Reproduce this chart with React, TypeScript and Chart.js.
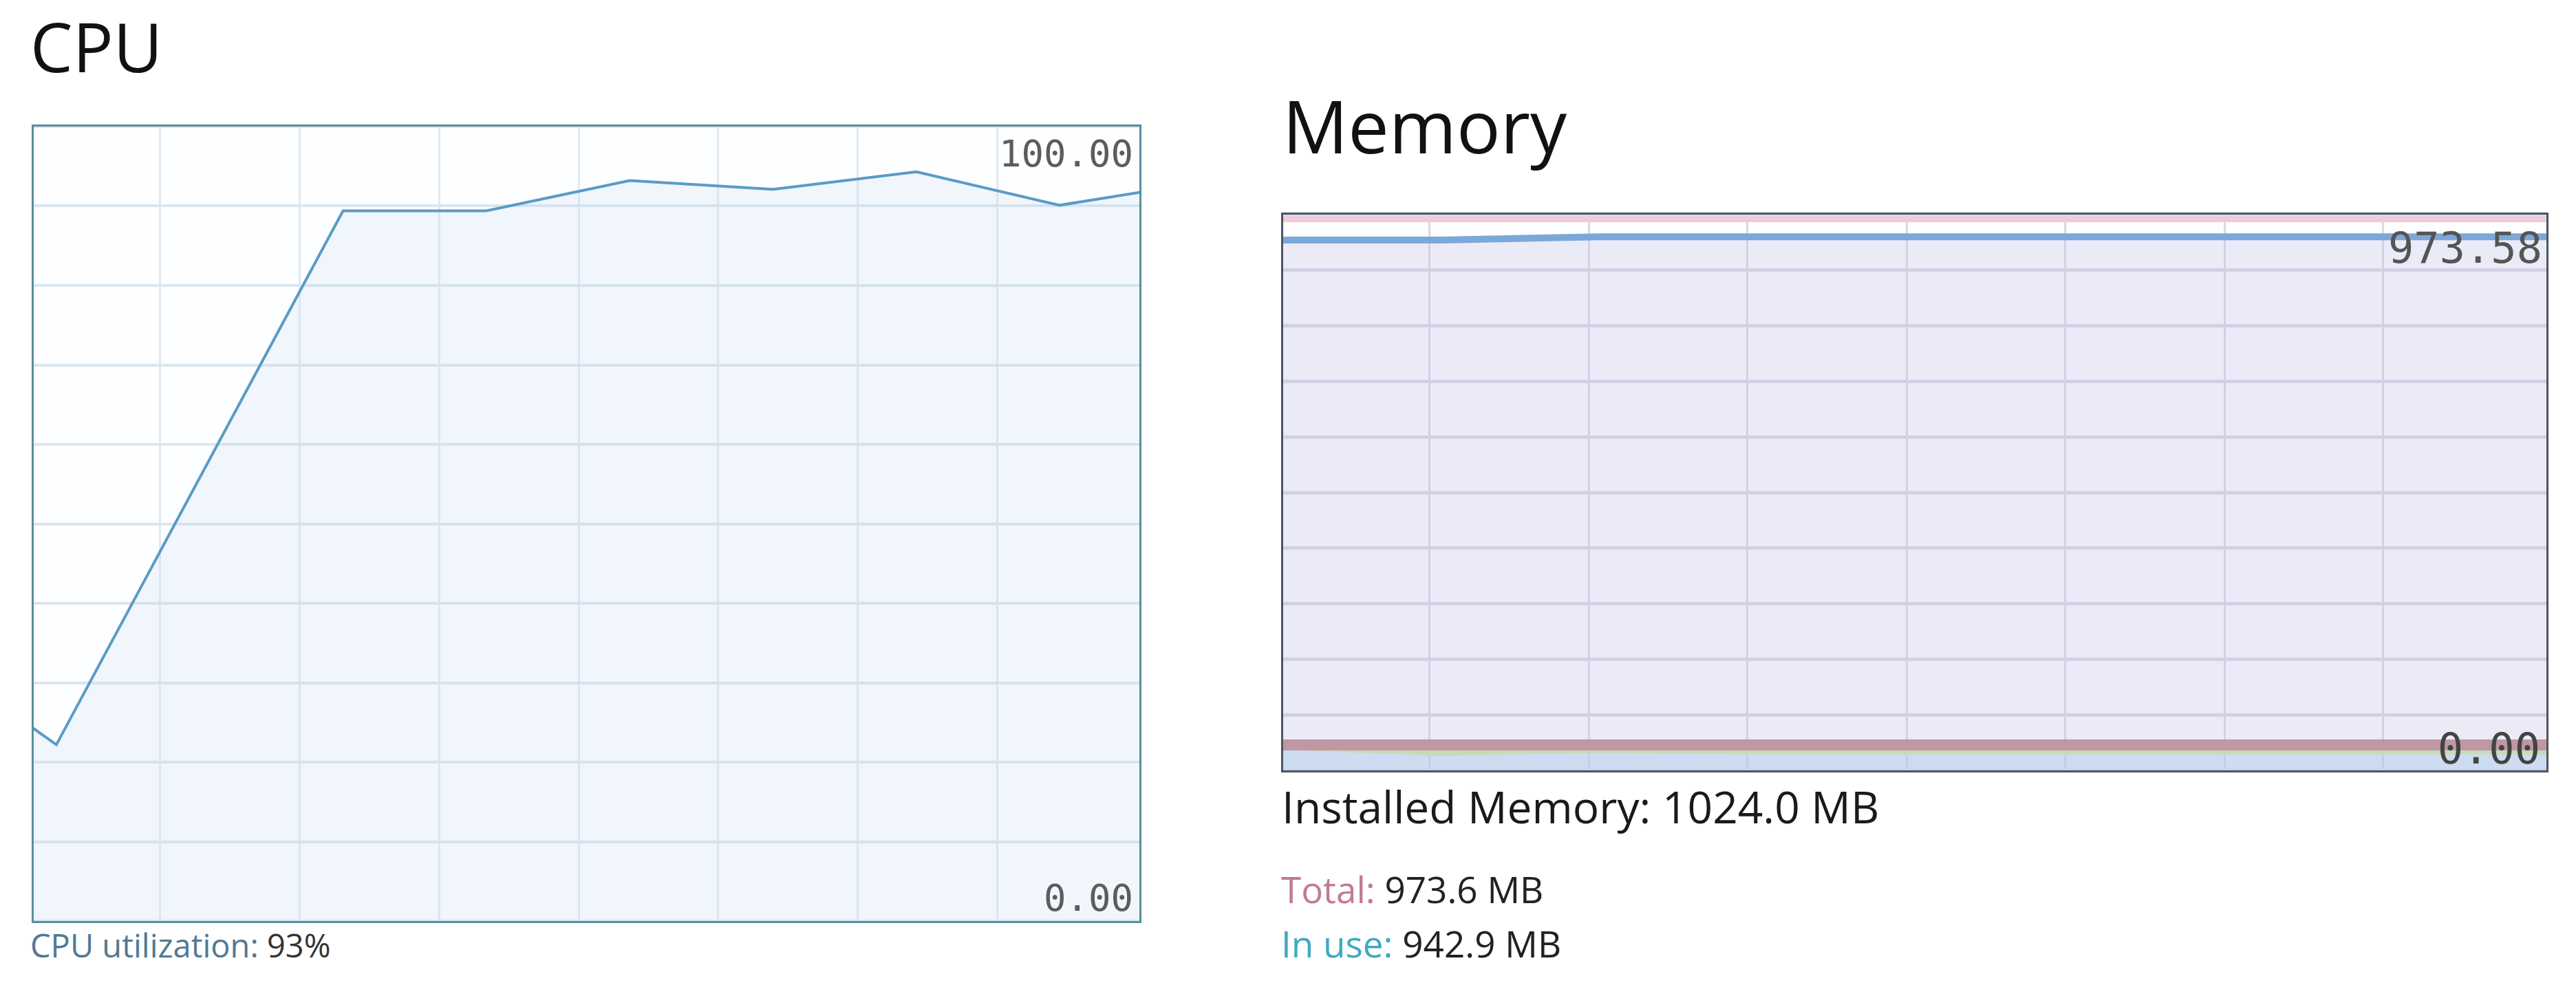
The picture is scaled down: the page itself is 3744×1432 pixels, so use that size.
import React, { useEffect, useRef } from 'react';
import { Chart, registerables } from 'chart.js';

Chart.register(...registerables);

// ---------- CPU data (x = sample index, y = % utilisation) ----------
const cpuTime = [-1, 0, 2, 3, 4, 5, 6, 7, 8];
const cpuValues = [35, 22.2, 89.4, 89.4, 93.2, 92.1, 94.3, 90.1, 93.0];
const cpuXRange = [-0.158, 7.556];
const cpuYMax = 100;
const cpuYMin = 0;
const cpuGridX = [0.725, 1.698, 2.671, 3.644, 4.617, 5.59, 6.563];

// ---------- Memory data (MB) ----------
const memTime = [0, 1, 2, 3, 4, 5, 6, 7, 8];
const memTotal = [973.58, 973.58, 973.58, 973.58, 973.58, 973.58, 973.58, 973.58, 973.58];
const memInUse = [937, 937, 942.9, 942.9, 942.9, 942.9, 942.9, 942.9, 942.9];
const memModified = [45, 45, 45, 45, 45, 45, 45, 45, 45];
const memCached = [41, 31, 36, 33, 33, 33, 33, 33, 33];
const memXRange = [0, 8];
const memYMax = 982;
const memYMin = 0;
const memGridX = [0.928, 1.935, 2.941, 3.948, 4.954, 5.961, 6.967];
const installedMemory = 1024;

const FONT = '"Open Sans", "Noto Sans", sans-serif';
const MONO = '"DejaVu Sans Mono", "Liberation Mono", monospace';

const pts = (xs: number[], ys: number[]) => xs.map((x, i) => ({ x, y: ys[i] }));

function makeScales(
  xRange: number[], gridX: number[], yMin: number, yMax: number,
  vColor: string, vWidth: number, hColor: string, hWidth: number
) {
  return {
    x: {
      type: 'linear' as const,
      min: xRange[0],
      max: xRange[1],
      ticks: { display: false },
      border: { display: false },
      grid: { color: vColor, lineWidth: vWidth, drawTicks: false },
      afterBuildTicks: (s: any) => { s.ticks = gridX.map((v) => ({ value: v })); },
    },
    y: {
      type: 'linear' as const,
      min: yMin,
      max: yMax,
      ticks: { display: false, count: 11 },
      border: { display: false },
      grid: { color: hColor, lineWidth: hWidth, drawTicks: false },
    },
  };
}

function cpuConfig(): any {
  return {
    type: 'line',
    data: {
      datasets: [
        {
          data: pts(cpuTime, cpuValues),
          borderColor: '#5a9bc6',
          borderWidth: 4,
          backgroundColor: 'rgba(195,220,242,0.22)',
          fill: 'origin',
          pointRadius: 0,
          tension: 0,
        },
      ],
    },
    options: {
      animation: false,
      responsive: false,
      maintainAspectRatio: false,
      layout: { padding: 0, autoPadding: false },
      plugins: { legend: { display: false }, tooltip: { enabled: false } },
      scales: makeScales(cpuXRange, cpuGridX, cpuYMin, cpuYMax, '#dfeaf4', 3, '#dbe6ee', 4),
    },
  };
}

function memConfig(): any {
  return {
    type: 'line',
    data: {
      datasets: [
        {
          label: 'Total',
          data: pts(memTime, memTotal),
          borderColor: '#f3cadb',
          borderWidth: 8,
          fill: false,
          pointRadius: 0,
        },
        {
          label: 'In use',
          data: pts(memTime, memInUse),
          borderColor: '#7ba8d9',
          borderWidth: 10,
          backgroundColor: 'rgba(190,185,230,0.28)',
          fill: 'origin',
          pointRadius: 0,
        },
        {
          data: pts(memTime, memModified),
          borderColor: 'rgb(192,152,164)',
          borderWidth: 16,
          fill: false,
          pointRadius: 0,
        },
        {
          data: pts(memTime, memCached),
          borderColor: '#c6dbb6',
          borderWidth: 8,
          backgroundColor: 'rgba(175,215,238,0.55)',
          fill: 'origin',
          pointRadius: 0,
        },
      ],
    },
    options: {
      animation: false,
      responsive: false,
      maintainAspectRatio: false,
      layout: { padding: 0, autoPadding: false },
      plugins: {
        legend: { display: false },
        tooltip: { enabled: false },
        filler: { drawTime: 'beforeDatasetsDraw' },
      },
      scales: makeScales(memXRange, memGridX, memYMin, memYMax, '#dad8e5', 3, '#dbd9e5', 5),
    },
  };
}

function ChartBox(props: { config: () => any; left: number; top: number; width: number; height: number; border: string }) {
  const { config, left, top, width, height, border } = props;
  const ref = useRef<HTMLCanvasElement>(null);
  useEffect(() => {
    const chart = new Chart(ref.current as HTMLCanvasElement, config());
    return () => chart.destroy();
  }, []);
  const w = width - 6;
  const h = height - 6;
  return (
    <div
      style={{
        position: 'absolute', left, top, width, height,
        border: `3px solid ${border}`, boxSizing: 'border-box', background: '#fdfeff',
      }}
    >
      <canvas ref={ref} width={w} height={h} style={{ display: 'block', width: w, height: h }} />
    </div>
  );
}

function Txt(props: { left?: number; right?: number; top: number; size: number; color?: string; font?: string; children: any }) {
  const { left, right, top, size, color = '#111', font = FONT, children } = props;
  return (
    <div
      style={{
        position: 'absolute', left, right, top, fontFamily: font, fontSize: size,
        lineHeight: `${size}px`, color, whiteSpace: 'nowrap',
      }}
    >
      {children}
    </div>
  );
}

export default function App() {
  const W = 3744;
  const cpuLast = cpuValues[cpuValues.length - 1];
  const totalLast = memTotal[memTotal.length - 1];
  const inUseLast = memInUse[memInUse.length - 1];
  return (
    <div style={{ position: 'fixed', left: 0, top: 0, width: W, height: 1432, background: '#fff', overflow: 'hidden' }}>
      {/* CPU panel */}
      <Txt left={44} top={18} size={98}>CPU</Txt>
      <ChartBox config={cpuConfig} left={46} top={181} width={1613} height={1161} border="#5a8e9d" />
      <Txt right={W - 1647} top={197} size={54} font={MONO} color="#5c5c5c">{cpuYMax.toFixed(2)}</Txt>
      <Txt right={W - 1647} top={1279} size={54} font={MONO} color="#5c5c5c">{cpuYMin.toFixed(2)}</Txt>
      <Txt left={44} top={1351} size={47} color="#333">
        <span style={{ color: '#4f7a94' }}>CPU utilization:</span> {Math.round(cpuLast)}%
      </Txt>

      {/* Memory panel */}
      <Txt left={1864} top={129} size={106}>Memory</Txt>
      <ChartBox config={memConfig} left={1862} top={309} width={1842} height={814} border="#4b5661" />
      <Txt right={W - 3695} top={330} size={62} font={MONO} color="#555">{totalLast.toFixed(2)}</Txt>
      <Txt right={W - 3692} top={1058} size={62} font={MONO} color="#444">{memYMin.toFixed(2)}</Txt>
      <Txt left={1863} top={1141} size={64} color="#1a1a1a">
        Installed Memory: {installedMemory.toFixed(1)} MB
      </Txt>
      <Txt left={1862} top={1266} size={53} color="#222">
        <span style={{ color: '#c27a92' }}>Total:</span> {totalLast.toFixed(1)} MB
      </Txt>
      <Txt left={1862} top={1345} size={53} color="#222">
        <span style={{ color: '#3faabf' }}>In use:</span> {inUseLast.toFixed(1)} MB
      </Txt>
    </div>
  );
}
